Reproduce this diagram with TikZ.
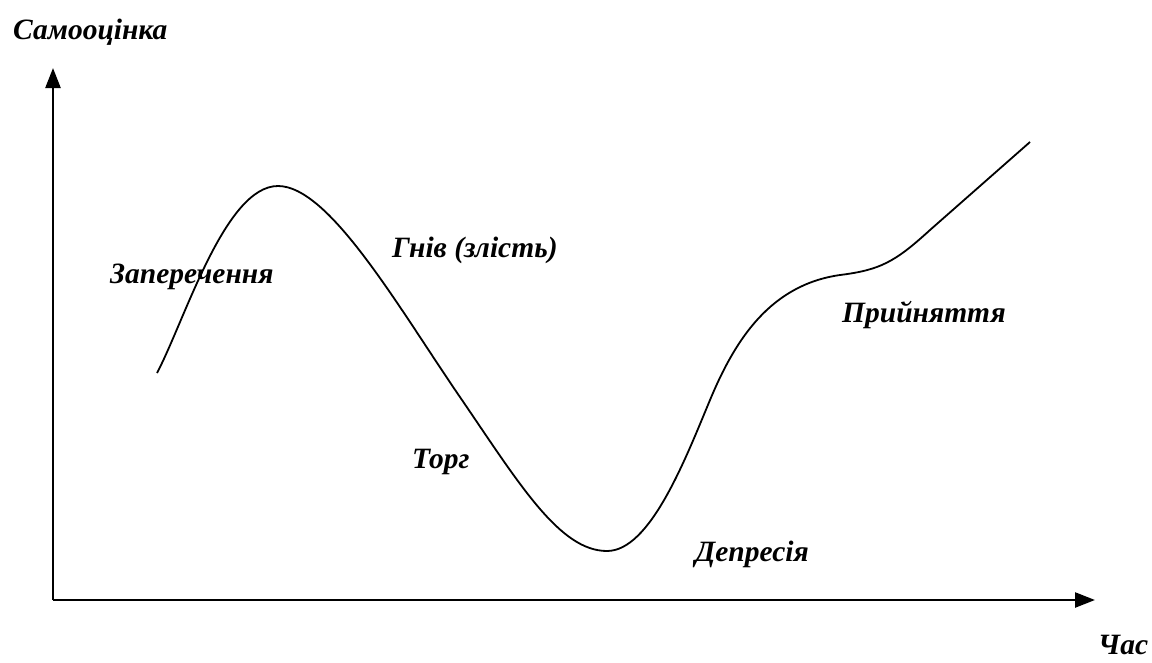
\documentclass[tikz,border=0pt]{standalone}
\usepackage{fontspec}
\setmainfont{Liberation Serif}
\usetikzlibrary{arrows.meta}
\begin{document}
\begin{tikzpicture}[x=1pt,y=-1pt,
  lbl/.style={anchor=base west,inner sep=0pt,font=\fontsize{29.5}{34}\selectfont\bfseries\itshape},
  axis/.style={line width=2.4pt,-{Triangle[length=20pt,width=15pt]}},
  curve/.style={line width=1.8pt}]
\useasboundingbox (0,0) rectangle (1152,662);
\coordinate (o) at (53,600);
\coordinate (ytip) at (53,68);
\coordinate (xtip) at (1095,600);
\draw[axis] (o) -- (ytip);
\draw[axis] (o) -- (xtip);
\node[lbl] (ylab) at (13,39) {Самооцінка};
\node[lbl] (xlab) at (1098,654) {Час};
\node[lbl] (l1) at (110,283) {Заперечення};
\node[lbl] (l2) at (392,257) {Гнів (злість)};
\node[lbl] (l3) at (412,468) {Торг};
\node[lbl] (l4) at (695,561) {Депресія};
\node[lbl] (l5) at (842,322) {Прийняття};
\draw[curve] (157,373) .. controls (185,320) and (225,186) .. (278,186)
  .. controls (330,186) and (400,310) .. (462,400)
  .. controls (520,485) and (560,551) .. (607,551)
  .. controls (650,551) and (685,460) .. (710,400)
  .. controls (735,340) and (770,285) .. (840,275)
  .. controls (880,270) and (895,262) .. (930,230)
  -- (1030,142);
\end{tikzpicture}
\end{document}
